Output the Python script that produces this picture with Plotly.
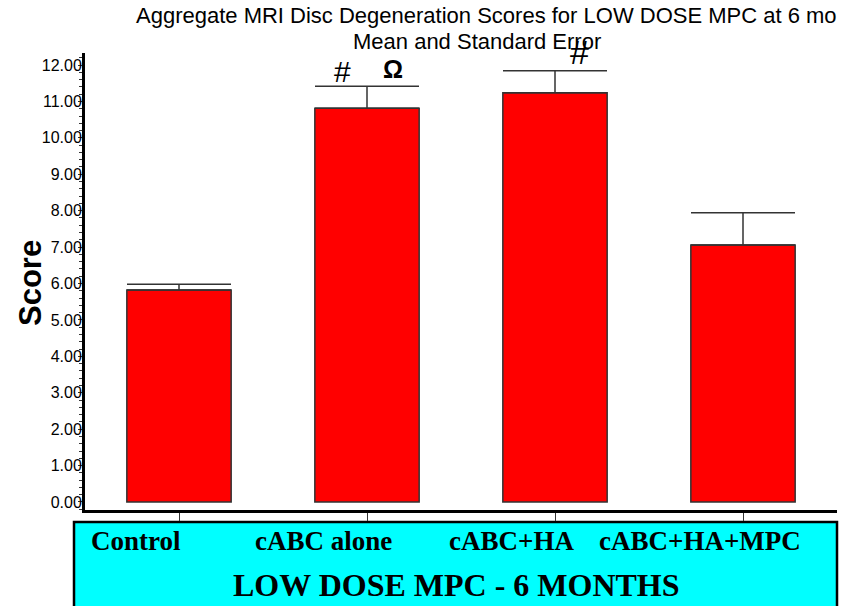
import plotly.graph_objects as go

categories = ["Control", "cABC alone", "cABC+HA", "cABC+HA+MPC"]
means = [5.82, 10.81, 11.24, 7.06]
sem = [0.16, 0.61, 0.60, 0.88]
y_ticks = [0, 1, 2, 3, 4, 5, 6, 7, 8, 9, 10, 11, 12]
title_line1 = "Aggregate MRI Disc Degeneration Scores for LOW DOSE MPC at 6 mo"
title_line2 = "Mean and Standard Error"
group_label = "LOW DOSE MPC - 6 MONTHS"
y_title = "Score"

idx = list(range(len(categories)))

W, H = 856, 606
L, R, T, B = 85, 19, 53, 96
ph = H - T - B
pw = W - L - R


def py(pix):
    return (H - B - pix) / ph


def px(pix):
    return (pix - L) / pw


fig = go.Figure()
fig.add_trace(go.Bar(
    x=idx, y=means, width=0.555,
    marker=dict(color="#ff0000", line=dict(color="#333333", width=1.5)),
    error_y=dict(type="data", array=sem, arrayminus=[0] * len(sem), symmetric=False,
                 color="#333333", thickness=1.5, width=52),
    showlegend=False,
))

# significance markers
fig.add_annotation(x=0.87, y=means[1] + sem[1], xref="x", yref="y", text="#", showarrow=False,
                   yanchor="bottom", yshift=-4, font=dict(family="Arial", size=30, color="black"))
fig.add_annotation(x=1.14, y=means[1] + sem[1], xref="x", yref="y", text="<b>Ω</b>", showarrow=False,
                   yanchor="bottom", yshift=1, font=dict(family="Arial", size=25, color="black"))
fig.add_annotation(x=2.13, y=means[2] + sem[2], xref="x", yref="y", text="#", showarrow=False,
                   yanchor="bottom", yshift=-2, font=dict(family="Arial", size=34, color="black"))

# titles
fig.add_annotation(x=px(487), y=py(16), xref="paper", yref="paper", text=title_line1,
                   showarrow=False, yanchor="middle", font=dict(family="Arial", size=22, color="black"))
fig.add_annotation(x=px(477), y=py(42), xref="paper", yref="paper", text=title_line2,
                   showarrow=False, yanchor="middle", font=dict(family="Arial", size=22, color="black"))

# cyan category box
fig.add_shape(type="rect", xref="paper", yref="paper", x0=px(74), x1=px(837), y0=py(522), y1=py(620),
              fillcolor="#00ffff", line=dict(color="black", width=2.5), layer="below")
for i, c in enumerate(categories):
    fig.add_annotation(x=i - 0.23, y=py(541), xref="x", yref="paper", text="<b>" + c + "</b>",
                       showarrow=False, yanchor="middle",
                       font=dict(family="Liberation Serif", size=27, color="black"))
fig.add_annotation(x=px(456), y=py(585), xref="paper", yref="paper", text="<b>" + group_label + "</b>",
                   showarrow=False, yanchor="middle",
                   font=dict(family="Liberation Serif", size=32, color="black"))

# y-axis title
fig.add_annotation(x=px(30), y=py(283), xref="paper", yref="paper", text="<b>" + y_title + "</b>",
                   showarrow=False, textangle=-90, xanchor="center", yanchor="middle",
                   font=dict(family="Arial", size=31, color="black"))

fig.update_layout(
    width=W, height=H,
    margin=dict(l=L, r=R, t=T, b=B, pad=0),
    paper_bgcolor="white", plot_bgcolor="white",
    xaxis=dict(range=[-0.5, 3.5], tickvals=idx, ticktext=["" for _ in idx], ticks="outside",
               ticklen=8, tickwidth=1, tickcolor="#333333", showline=True, linecolor="black",
               linewidth=3, showgrid=False, zeroline=False, fixedrange=True),
    yaxis=dict(range=[-0.22, 12.33], tickvals=y_ticks, ticktext=["%.2f" % v for v in y_ticks],
               ticks="outside", ticklen=4, tickwidth=1, tickcolor="#333333",
               minor=dict(dtick=0.2, ticks="outside", ticklen=3, tickcolor="#333333", tickwidth=1),
               showline=True, linecolor="black", linewidth=3, showgrid=False, zeroline=False,
               tickfont=dict(family="Arial", size=16, color="black"), ticklabelstandoff=-7,
               fixedrange=True),
)

fig.write_html("out.html")
